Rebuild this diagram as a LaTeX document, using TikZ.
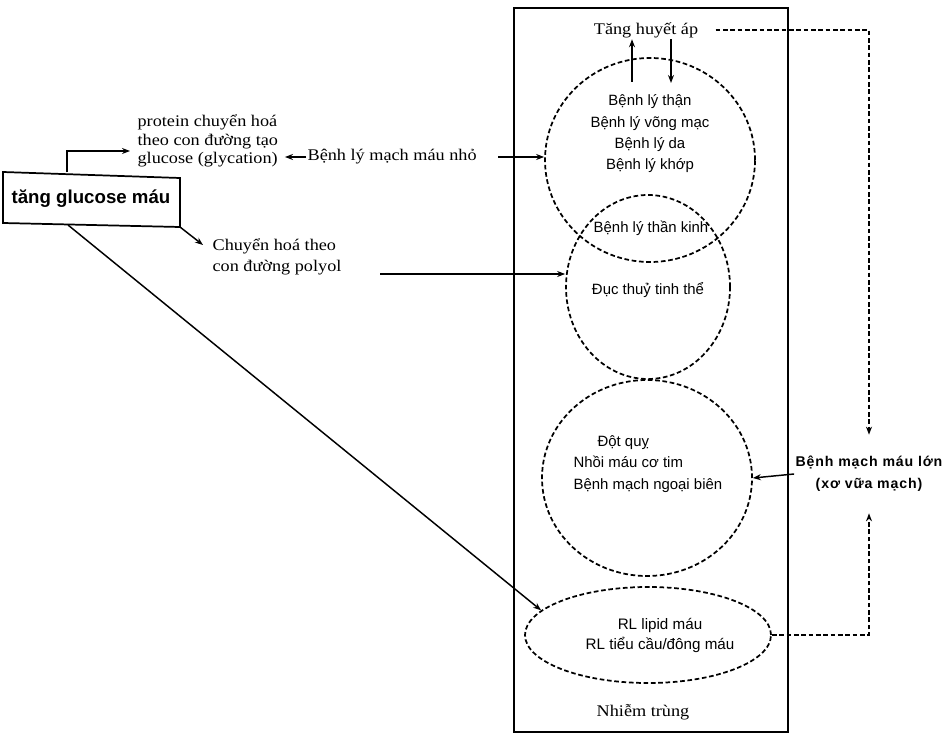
\documentclass[tikz,border=0pt]{standalone}
\usepackage{fontspec}
\setmainfont{Liberation Serif}[FakeStretch=1.12]
\setsansfont{Liberation Sans}
\usetikzlibrary{shapes.geometric,arrows.meta,calc}
\begin{document}
\begin{tikzpicture}[x=0.75pt,y=-0.75pt,
  serif/.style={font=\fontsize{12.2}{13.9}\selectfont, inner sep=1pt},
  sans/.style={font=\sffamily\fontsize{11.2}{16}\selectfont, inner sep=1pt},
  arr/.style={line width=1.1pt,-{Stealth[length=6pt,width=4.5pt]}},
  dasharr/.style={line width=1.1pt,dash pattern=on 3.5pt off 2pt,-{Stealth[length=6pt,width=4.5pt]}},
  dcirc/.style={ellipse,draw,line width=1.3pt,dash pattern=on 3.5pt off 2pt,inner sep=0pt}]
\useasboundingbox (0,0) rectangle (945,734);
% frame
\draw[line width=1.7pt] (514,8) rectangle (788,732);
% ellipses
\node[dcirc,minimum width=210*0.75pt,minimum height=204*0.75pt] (top) at (650,160) {};
\node[dcirc,minimum width=164*0.75pt,minimum height=184*0.75pt] (low) at (648,287) {};
\node[dcirc,minimum width=210*0.75pt,minimum height=196*0.75pt] (mid) at (647,478) {};
\node[dcirc,minimum width=246*0.75pt,minimum height=96*0.75pt] (lip) at (648,635) {};
% texts inside frame
\node[serif] (tha) at (646,30) {Tăng huyết áp};
\node[sans,align=center] (toptxt) at (650,134) {Bệnh lý thận\\Bệnh lý võng mạc\\Bệnh lý da\\Bệnh lý khớp};
\node[sans] (tk) at (651,228) {Bệnh lý thần kinh};
\node[sans] (duc) at (648,290) {Đục thuỷ tinh thể};
\node[sans,align=left,anchor=west] (midtxt) at (572,464) {\hspace*{18pt}Đột quỵ\\Nhồi máu cơ tim\\Bệnh mạch ngoại biên};
\node[sans,align=center,font=\sffamily\fontsize{11.4}{15}\selectfont] (liptxt) at (660,635) {RL lipid máu\\RL tiểu cầu/đông máu};
\node[serif] (nt) at (643,712) {Nhiễm trùng};
% left side
\coordinate (gnw) at (3,172);
\coordinate (gne) at (180,178);
\coordinate (gse) at (180,227);
\coordinate (gsw) at (3,223);
\draw[line width=1.3pt] (gnw) -- (gne) -- (gse) -- (gsw) -- cycle;
\node[font=\sffamily\bfseries\fontsize{14}{16}\selectfont,inner sep=1pt] (glu) at (91,199) {tăng glucose máu};
\node[serif,align=left,anchor=west] (prot) at (136,141) {protein chuyển hoá\\theo con đường tạo\\glucose (glycation)};
\node[serif,anchor=west,font=\fontsize{12.2}{14}\selectfont] (bnho) at (306,157) {Bệnh lý mạch máu nhỏ};
\node[serif,align=left,anchor=west,font=\fontsize{12.2}{16}\selectfont] (poly) at (211,257) {Chuyển hoá theo\\con đường polyol};
% right label
\node[font=\sffamily\bfseries\fontsize{10.6}{16.5}\selectfont\addfontfeature{LetterSpace=6},align=center,inner xsep=1pt,inner ysep=16pt] (bmml) at (869,474) {Bệnh mạch máu lớn\\(xơ vữa mạch)};
% coordinates
\coordinate (g1) at (67,172.5);
\coordinate (pr) at (130,151);
\coordinate (ps) at (380,274);
\coordinate (u1) at (632,82);
\coordinate (d1) at (671,83);
\coordinate (gl) at (68,225);
% connectors
\draw[arr] (g1) |- (pr);
\draw[arr,shorten >=4pt] (bnho.west) -- (prot.east |- bnho.west);
\draw[arr,shorten <=15pt] (bnho.east) -- (top.west |- bnho.east);
\draw[arr] (gse) -- ([yshift=9pt,xshift=-6pt]poly.west);
\draw[arr] (ps) -- (low.west |- ps);
\draw[arr] (gl) -- (lip.167);
\draw[arr] (u1) -- (u1 |- tha.south);
\draw[arr] (d1 |- tha.south) -- (d1);
\draw[dasharr,shorten <=12pt] (tha.east) -| (bmml.north);
\draw[dasharr] (lip.east) -| (bmml.south);
\draw[arr] (bmml.west) -- (mid.east);
\end{tikzpicture}
\end{document}
